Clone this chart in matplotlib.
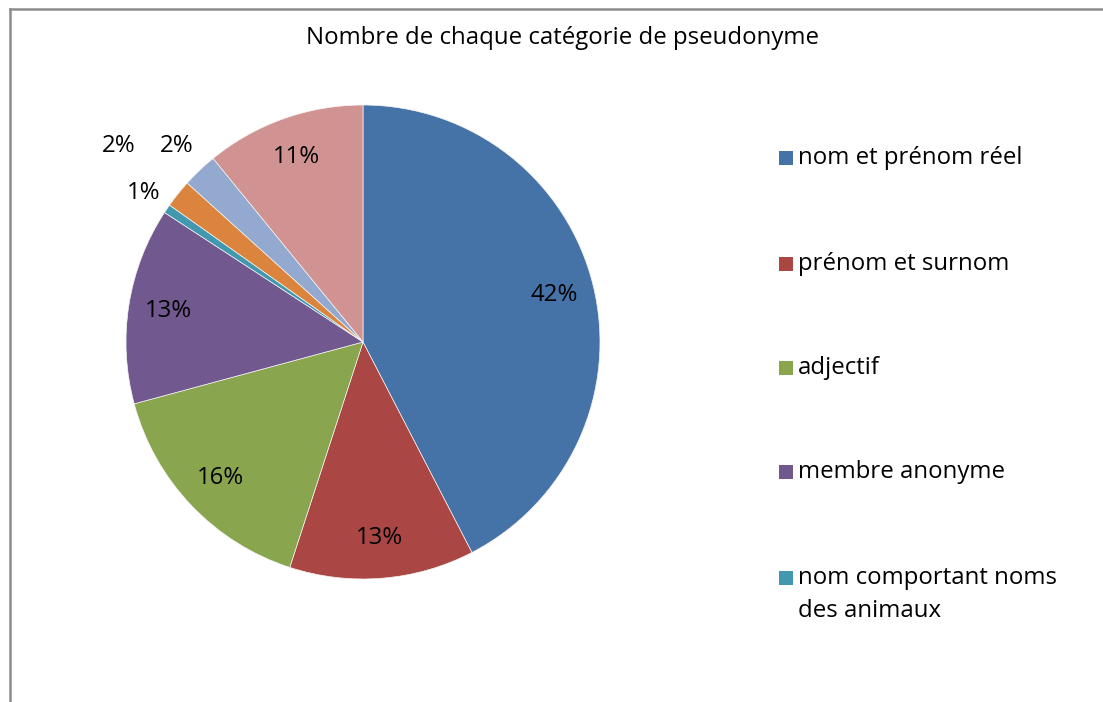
import matplotlib
matplotlib.use("Agg")
import matplotlib.pyplot as plt
import numpy as np
from matplotlib.lines import Line2D
from matplotlib.patches import Rectangle

plt.rcParams["font.family"] = ["Open Sans", "DejaVu Sans"]

categories = [
    "nom et prénom réel",
    "prénom et surnom",
    "adjectif",
    "membre anonyme",
    "nom comportant noms\ndes animaux",
    "autre 1",
    "autre 2",
    "autre 3",
]
shares = [42.4, 12.6, 15.8, 13.4, 0.6, 1.9, 2.4, 10.9]
colors = ["#4572A7", "#AA4643", "#89A54E", "#71588F",
          "#4198AF", "#DB843D", "#93A9CF", "#D19392"]
# the small slices get their label outside the pie (radius in pie units)
outside_r = {4: 1.12, 5: 1.32, 6: 1.14}
n_legend = 5  # only the first five entries fit in the legend box

W, H = 1103, 702
FS = 17.3
fig = plt.figure(figsize=(W / 100, H / 100), dpi=100)

cx, cy, r = 363, H - 342, 237
ax = fig.add_axes([(cx - r) / W, (cy - r) / H, 2 * r / W, 2 * r / H])
wedges, _, autotexts = ax.pie(
    shares, colors=colors, startangle=90, counterclock=False,
    autopct="%.0f%%", pctdistance=0.83,
    wedgeprops=dict(linewidth=0.5, edgecolor="#f4f4f4"),
    textprops=dict(fontsize=FS, color="black"),
)
ax.set_xlim(-1, 1)
ax.set_ylim(-1, 1)
ax.set_aspect("equal")
ax.axis("off")

for i, rr in outside_r.items():
    w = wedges[i]
    mid = np.deg2rad((w.theta1 + w.theta2) / 2)
    autotexts[i].set_position((rr * np.cos(mid), rr * np.sin(mid)))
    autotexts[i].set_clip_on(False)

fig.text(563 / W, 1 - 38 / H, "Nombre de chaque catégorie de pseudonyme",
         ha="center", va="center", fontsize=FS)

# legend drawn by hand to get the wide Excel spacing
leg_y = [158, 264, 368, 472, 578]
for k in range(n_legend):
    y = leg_y[k]
    fig.add_artist(Rectangle((779 / W, 1 - (y + 7) / H), 14 / W, 14 / H,
                             transform=fig.transFigure, facecolor=colors[k],
                             edgecolor="none"))
    for j, line in enumerate(categories[k].split("\n")):
        fig.text(798 / W, 1 - (y + 33 * j) / H, line, ha="left", va="center",
                 fontsize=FS)

# chart area border (only top and left edges are visible in the crop)
fig.add_artist(Line2D([9.5 / W, 9.5 / W], [0, 1 - 8.5 / H], transform=fig.transFigure,
                      color="#8c8c8c", lw=1.8))
fig.add_artist(Line2D([9.5 / W, 1], [1 - 8.5 / H, 1 - 8.5 / H], transform=fig.transFigure,
                      color="#8c8c8c", lw=1.8))

fig.savefig("out.png", dpi=100, facecolor="white")
